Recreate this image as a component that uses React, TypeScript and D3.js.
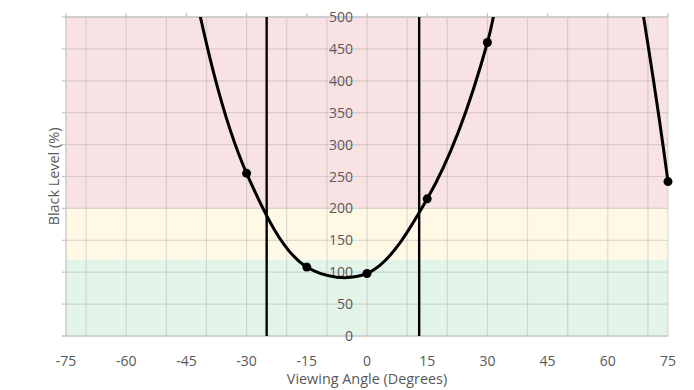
import React, { useEffect, useRef } from "react";
import * as d3 from "d3";

// measured viewing angles (degrees) and black level (%); values beyond 500 are off the chart
const angles = [-75, -60, -45, -30, -15, 0, 15, 30, 45, 60, 75];
const blackLevel = [1400, 1200, 600, 255, 108, 98, 215, 460, 1000, 780, 242];

// angles drawn with a dot (the chart only marks the visible ones)
const markedAngles = [-30, -15, 0, 15, 30, 75];

const xTicks = [-75, -60, -45, -30, -15, 0, 15, 30, 45, 60, 75];
const yTicks = [0, 50, 100, 150, 200, 250, 300, 350, 400, 450, 500];

// rating bands
const bands = [
  { from: 0, to: 120, color: "#e3f4e9" },
  { from: 120, to: 200, color: "#fef8e5" },
  { from: 200, to: 500, color: "#f9e2e4" },
];

// vertical reference lines
const cutoffs = [-25, 13];

const App = () => {
  const ref = useRef<SVGSVGElement>(null);

  useEffect(() => {
    drawChart();
  }, []);

  const drawChart = () => {
    const svg = d3.select(ref.current);
    svg.selectAll("*").remove();

    const left = 66, right = 668, top = 17, bottom = 336;
    const x = d3.scaleLinear().domain([-75, 75]).range([left, right]);
    const y = d3.scaleLinear().domain([0, 500]).range([bottom, top]);

    const font = "'Open Sans', 'Noto Sans', sans-serif";
    const textColor = "#595959";

    // bands
    svg.selectAll("rect.band")
      .data(bands)
      .enter()
      .append("rect")
      .attr("x", left)
      .attr("width", right - left)
      .attr("y", (d) => y(d.to))
      .attr("height", (d) => y(d.from) - y(d.to))
      .attr("fill", (d) => d.color);

    // gridlines
    const gridColor = "rgba(140,140,140,0.28)";
    svg.append("g")
      .selectAll("line")
      .data(d3.range(-70, 71, 10))
      .enter()
      .append("line")
      .attr("x1", (d) => x(d))
      .attr("x2", (d) => x(d))
      .attr("y1", top)
      .attr("y2", bottom)
      .attr("stroke", gridColor)
      .attr("stroke-width", 1.2);
    svg.append("g")
      .selectAll("line")
      .data(yTicks.slice(1))
      .enter()
      .append("line")
      .attr("x1", left)
      .attr("x2", right)
      .attr("y1", (d) => y(d))
      .attr("y2", (d) => y(d))
      .attr("stroke", gridColor)
      .attr("stroke-width", 1.2);
    // right border
    svg.append("line")
      .attr("x1", right).attr("x2", right).attr("y1", top).attr("y2", bottom)
      .attr("stroke", gridColor).attr("stroke-width", 1.2);

    // axes lines
    const axisColor = "#c6c6c6";
    svg.append("line")
      .attr("x1", left - 4).attr("x2", right).attr("y1", bottom).attr("y2", bottom)
      .attr("stroke", axisColor).attr("stroke-width", 1.3);
    svg.append("line")
      .attr("x1", left).attr("x2", right).attr("y1", top).attr("y2", top)
      .attr("stroke", axisColor).attr("stroke-width", 1.3);
    svg.append("line")
      .attr("x1", left).attr("x2", left).attr("y1", top).attr("y2", bottom)
      .attr("stroke", axisColor).attr("stroke-width", 1.3);

    // left ticks
    svg.append("g")
      .selectAll("line")
      .data(yTicks)
      .enter()
      .append("line")
      .attr("x1", left - 4)
      .attr("x2", left)
      .attr("y1", (d) => y(d))
      .attr("y2", (d) => y(d))
      .attr("stroke", axisColor)
      .attr("stroke-width", 1.3);

    // top ticks
    svg.append("g")
      .selectAll("line")
      .data(xTicks)
      .enter()
      .append("line")
      .attr("x1", (d) => x(d))
      .attr("x2", (d) => x(d))
      .attr("y1", top - 4)
      .attr("y2", top)
      .attr("stroke", axisColor)
      .attr("stroke-width", 1.3);

    // y tick labels, sitting next to the 0° line
    svg.append("g")
      .selectAll("text")
      .data(yTicks)
      .enter()
      .append("text")
      .attr("x", x(0) - 14)
      .attr("y", (d) => y(d))
      .attr("dy", "0.36em")
      .attr("text-anchor", "end")
      .style("font-family", font)
      .style("font-size", "14px")
      .style("fill", textColor)
      .text((d) => d);

    // x tick labels
    svg.append("g")
      .selectAll("text")
      .data(xTicks)
      .enter()
      .append("text")
      .attr("x", (d) => x(d))
      .attr("y", 366)
      .attr("text-anchor", "middle")
      .style("font-family", font)
      .style("font-size", "14px")
      .style("fill", textColor)
      .text((d) => d);

    // axis titles
    svg.append("text")
      .attr("x", (left + right) / 2)
      .attr("y", 384)
      .attr("text-anchor", "middle")
      .style("font-family", font)
      .style("font-size", "14.4px")
      .style("fill", textColor)
      .text("Viewing Angle (Degrees)");
    svg.append("text")
      .attr("transform", `translate(59, ${(top + bottom) / 2}) rotate(-90)`)
      .attr("text-anchor", "middle")
      .style("font-family", font)
      .style("font-size", "14.4px")
      .style("fill", textColor)
      .text("Black Level (%)");

    // cutoff lines
    svg.append("g")
      .selectAll("line")
      .data(cutoffs)
      .enter()
      .append("line")
      .attr("x1", (d) => x(d))
      .attr("x2", (d) => x(d))
      .attr("y1", top)
      .attr("y2", bottom)
      .attr("stroke", "#000")
      .attr("stroke-width", 2.4);

    // curve
    const data = angles.map((a, i) => ({ a, v: blackLevel[i] }));
    svg.append("clipPath")
      .attr("id", "plotClip")
      .append("rect")
      .attr("x", left - 10)
      .attr("y", top)
      .attr("width", right - left + 20)
      .attr("height", bottom - top);

    const line = d3.line<{ a: number; v: number }>()
      .x((d) => x(d.a))
      .y((d) => y(d.v))
      .curve(d3.curveCatmullRom.alpha(0.5));

    svg.append("path")
      .datum(data)
      .attr("clip-path", "url(#plotClip)")
      .attr("d", line)
      .attr("fill", "none")
      .attr("stroke", "#000")
      .attr("stroke-width", 3);

    svg.selectAll("circle")
      .data(data.filter((d) => markedAngles.includes(d.a)))
      .enter()
      .append("circle")
      .attr("cx", (d) => x(d.a))
      .attr("cy", (d) => y(d.v))
      .attr("r", 4.5)
      .attr("fill", "#000");
  };

  return (
    <div style={{ position: "absolute", left: 0, top: 0 }}>
      <svg ref={ref} width={694} height={390} style={{ display: "block", background: "#fff" }}></svg>
    </div>
  );
};

export default App;
